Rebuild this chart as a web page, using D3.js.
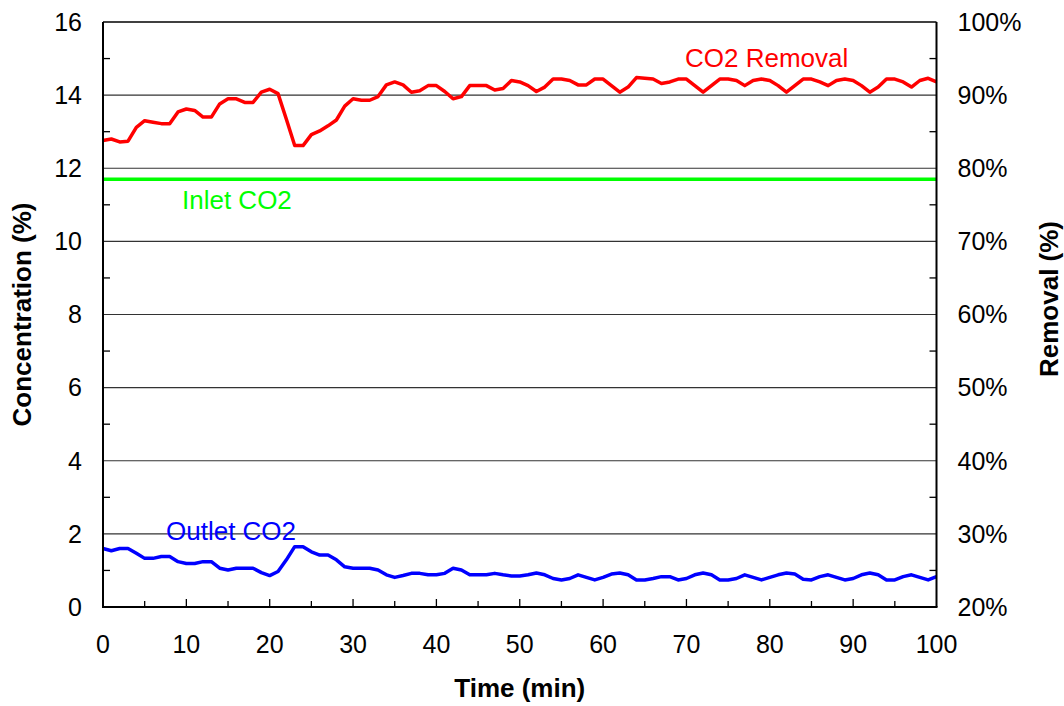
<!DOCTYPE html>
<html>
<head>
<meta charset="utf-8">
<script src="https://cdn.jsdelivr.net/npm/d3@7"></script>
<style>
  body { margin: 0; background: #fff; }
  svg { display: block; font-family: "Liberation Sans", Arial, sans-serif; }
</style>
</head>
<body>
<div id="chart"></div>
<script>
// time in minutes, one reading per minute
const timeMin = [
  0, 1, 2, 3, 4, 5, 6, 7, 8, 9, 10, 11, 12, 13, 14, 15, 16, 17, 18, 19,
  20, 21, 22, 23, 24, 25, 26, 27, 28, 29, 30, 31, 32, 33, 34, 35, 36, 37, 38, 39,
  40, 41, 42, 43, 44, 45, 46, 47, 48, 49, 50, 51, 52, 53, 54, 55, 56, 57, 58, 59,
  60, 61, 62, 63, 64, 65, 66, 67, 68, 69, 70, 71, 72, 73, 74, 75, 76, 77, 78, 79,
  80, 81, 82, 83, 84, 85, 86, 87, 88, 89, 90, 91, 92, 93, 94, 95, 96, 97, 98, 99, 100
];

// CO2 removal (%), right axis
const co2Removal = [
  83.8, 84.0, 83.6, 83.7, 85.6, 86.5, 86.3, 86.1, 86.1, 87.7,
  88.1, 87.9, 87.0, 87.0, 88.8, 89.5, 89.5, 89.0, 89.0, 90.4,
  90.8, 90.2, 86.7, 83.1, 83.1, 84.6, 85.1, 85.8, 86.6, 88.5,
  89.5, 89.3, 89.3, 89.8, 91.4, 91.8, 91.4, 90.4, 90.6, 91.3,
  91.3, 90.5, 89.5, 89.8, 91.3, 91.3, 91.3, 90.7, 90.9, 92.0,
  91.8, 91.3, 90.5, 91.1, 92.2, 92.2, 92.0, 91.4, 91.4, 92.2,
  92.2, 91.3, 90.4, 91.1, 92.4, 92.3, 92.2, 91.6, 91.8, 92.2,
  92.2, 91.3, 90.4, 91.3, 92.2, 92.2, 92.0, 91.3, 92.0, 92.2,
  92.0, 91.3, 90.4, 91.3, 92.2, 92.2, 91.8, 91.3, 92.0, 92.2,
  92.0, 91.3, 90.4, 91.1, 92.2, 92.2, 91.8, 91.1, 92.0, 92.3, 91.8
];

// outlet CO2 concentration (%), left axis
const outletCO2 = [
  1.60, 1.54, 1.60, 1.60, 1.47, 1.33, 1.33, 1.38, 1.38, 1.24,
  1.19, 1.19, 1.24, 1.24, 1.06, 1.01, 1.06, 1.06, 1.06, 0.94,
  0.86, 0.97, 1.29, 1.65, 1.65, 1.51, 1.42, 1.42, 1.29, 1.10,
  1.06, 1.06, 1.06, 1.01, 0.88, 0.81, 0.86, 0.92, 0.92, 0.88,
  0.88, 0.92, 1.06, 1.01, 0.88, 0.88, 0.88, 0.92, 0.88, 0.85,
  0.85, 0.88, 0.93, 0.88, 0.78, 0.74, 0.78, 0.88, 0.81, 0.74,
  0.81, 0.90, 0.93, 0.88, 0.74, 0.74, 0.78, 0.83, 0.83, 0.74,
  0.78, 0.88, 0.93, 0.88, 0.74, 0.74, 0.78, 0.88, 0.81, 0.74,
  0.81, 0.88, 0.93, 0.90, 0.76, 0.74, 0.83, 0.88, 0.81, 0.74,
  0.78, 0.88, 0.93, 0.88, 0.74, 0.74, 0.83, 0.88, 0.81, 0.74, 0.83
];

// inlet CO2 concentration (%), constant
const inletCO2 = 11.7;

const xTicks = [0, 10, 20, 30, 40, 50, 60, 70, 80, 90, 100];
const yLeftTicks = [0, 2, 4, 6, 8, 10, 12, 14, 16];
const yRightTicks = [20, 30, 40, 50, 60, 70, 80, 90, 100];

const width = 1064, height = 706;
const margin = { top: 22, right: 127.5, bottom: 99, left: 103 };
const fontSize = 25;

const svg = d3.select('#chart').append('svg')
  .attr('width', width)
  .attr('height', height);

const x = d3.scaleLinear().domain([0, 100]).range([margin.left, width - margin.right]);
const yL = d3.scaleLinear().domain([0, 16]).range([height - margin.bottom, margin.top]);
const yR = d3.scaleLinear().domain([20, 100]).range([height - margin.bottom, margin.top]);

const x0 = x.range()[0], x1 = x.range()[1];
const yTop = yL.range()[1], yBot = yL.range()[0];

// gridlines at the major left ticks
svg.append('g')
  .selectAll('line')
  .data(yLeftTicks.slice(1, -1))
  .join('line')
    .attr('x1', x0).attr('x2', x1)
    .attr('y1', d => yL(d)).attr('y2', d => yL(d))
    .attr('stroke', '#333')
    .attr('stroke-width', 1.2);

// top border
svg.append('line')
  .attr('x1', x0).attr('x2', x1)
  .attr('y1', yTop).attr('y2', yTop)
  .attr('stroke', '#000')
  .attr('stroke-width', 1.5);

// minor ticks, all pointing into the plot
const tickLen = 7;
svg.append('g')
  .selectAll('line')
  .data(d3.range(1, 16, 2))
  .join('line')
    .attr('x1', x0).attr('x2', x0 + tickLen)
    .attr('y1', d => yL(d)).attr('y2', d => yL(d))
    .attr('stroke', '#000').attr('stroke-width', 1.3);

svg.append('g')
  .selectAll('line')
  .data(d3.range(25, 100, 10))
  .join('line')
    .attr('x1', x1 - tickLen).attr('x2', x1)
    .attr('y1', d => yR(d)).attr('y2', d => yR(d))
    .attr('stroke', '#000').attr('stroke-width', 1.3);

svg.append('g')
  .selectAll('line')
  .data(d3.range(5, 100, 5))
  .join('line')
    .attr('x1', d => x(d)).attr('x2', d => x(d))
    .attr('y1', yBot).attr('y2', d => yBot - (d % 10 === 0 ? 8 : 6))
    .attr('stroke', '#000').attr('stroke-width', 1.3);

// series
const lineL = d3.line().x((d, i) => x(timeMin[i])).y(d => yL(d));
const lineR = d3.line().x((d, i) => x(timeMin[i])).y(d => yR(d));

svg.append('line')
  .attr('x1', x(timeMin[0])).attr('x2', x(timeMin[timeMin.length - 1]))
  .attr('y1', yL(inletCO2)).attr('y2', yL(inletCO2))
  .attr('stroke', '#00ff00')
  .attr('stroke-width', 3.5);

svg.append('path')
  .datum(outletCO2)
  .attr('d', lineL)
  .attr('fill', 'none')
  .attr('stroke', '#0000ff')
  .attr('stroke-width', 3.5)
  .attr('stroke-linejoin', 'round');

svg.append('path')
  .datum(co2Removal)
  .attr('d', lineR)
  .attr('fill', 'none')
  .attr('stroke', '#ff0000')
  .attr('stroke-width', 3.5)
  .attr('stroke-linejoin', 'round');

// axis lines
svg.append('line')
  .attr('x1', x0).attr('x2', x0).attr('y1', yTop).attr('y2', yBot)
  .attr('stroke', '#000').attr('stroke-width', 2);
svg.append('line')
  .attr('x1', x1).attr('x2', x1).attr('y1', yTop).attr('y2', yBot)
  .attr('stroke', '#000').attr('stroke-width', 2);
svg.append('line')
  .attr('x1', x0 - 1).attr('x2', x1 + 1).attr('y1', yBot).attr('y2', yBot)
  .attr('stroke', '#000').attr('stroke-width', 2);

// tick labels
svg.append('g')
  .selectAll('text')
  .data(yLeftTicks)
  .join('text')
    .attr('x', x0 - 21)
    .attr('y', d => yL(d))
    .attr('dy', '0.35em')
    .attr('text-anchor', 'end')
    .style('font-size', fontSize + 'px')
    .text(d => d);

svg.append('g')
  .selectAll('text')
  .data(yRightTicks)
  .join('text')
    .attr('x', x1 + 21)
    .attr('y', d => yR(d))
    .attr('dy', '0.35em')
    .attr('text-anchor', 'start')
    .style('font-size', fontSize + 'px')
    .text(d => d + '%');

svg.append('g')
  .selectAll('text')
  .data(xTicks)
  .join('text')
    .attr('x', d => x(d))
    .attr('y', yBot + 46)
    .attr('text-anchor', 'middle')
    .style('font-size', fontSize + 'px')
    .text(d => d);

// axis titles
svg.append('text')
  .attr('x', (x0 + x1) / 2)
  .attr('y', 697)
  .attr('text-anchor', 'middle')
  .style('font-size', '26px')
  .style('font-weight', 'bold')
  .text('Time (min)');

svg.append('text')
  .attr('transform', `translate(31, ${(yTop + yBot) / 2}) rotate(-90)`)
  .attr('text-anchor', 'middle')
  .style('font-size', '26px')
  .style('font-weight', 'bold')
  .text('Concentration (%)');

svg.append('text')
  .attr('transform', `translate(1058, 299) rotate(-90)`)
  .attr('text-anchor', 'middle')
  .style('font-size', '26px')
  .style('font-weight', 'bold')
  .text('Removal (%)');

// series labels
svg.append('text')
  .attr('x', 685).attr('y', 67)
  .attr('fill', '#ff0000')
  .style('font-size', '26px')
  .text('CO2 Removal');

svg.append('text')
  .attr('x', 182).attr('y', 209)
  .attr('fill', '#00ff00')
  .style('font-size', '26px')
  .text('Inlet CO2');

svg.append('text')
  .attr('x', 166).attr('y', 540)
  .attr('fill', '#0000ff')
  .style('font-size', '26px')
  .text('Outlet CO2');
</script>
</body>
</html>
